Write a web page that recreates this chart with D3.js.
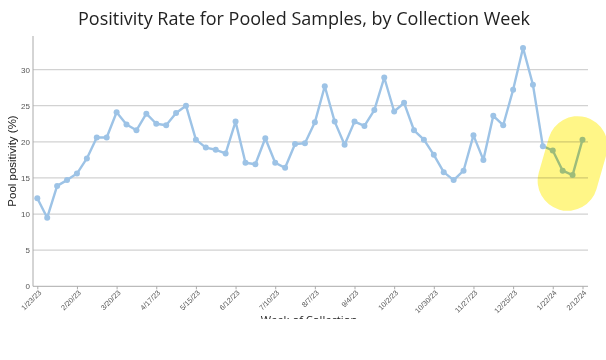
<!DOCTYPE html>
<html><head><meta charset="utf-8">
<script src="https://cdn.jsdelivr.net/npm/d3@7"></script>
<style>
html,body{margin:0;padding:0;background:#fff;}
svg{display:block;}
</style></head>
<body>
<svg id="chart" width="606" height="319"></svg>
<script>
const weeks = ["1/23/23","1/30/23","2/6/23","2/13/23","2/20/23","2/27/23","3/6/23","3/13/23","3/20/23","3/27/23","4/3/23","4/10/23","4/17/23","4/24/23","5/1/23","5/8/23","5/15/23","5/22/23","5/29/23","6/5/23","6/12/23","6/19/23","6/26/23","7/3/23","7/10/23","7/17/23","7/24/23","7/31/23","8/7/23","8/14/23","8/21/23","8/28/23","9/4/23","9/11/23","9/18/23","9/25/23","10/2/23","10/9/23","10/16/23","10/23/23","10/30/23","11/6/23","11/13/23","11/20/23","11/27/23","12/4/23","12/11/23","12/18/23","12/25/23","1/1/24","1/8/24","1/15/24","1/22/24","1/29/24","2/5/24","2/12/24"];
const positivity = [12.2,9.5,13.9,14.7,15.6,17.7,20.6,20.6,24.1,22.4,21.6,23.9,22.5,22.3,24.0,25.0,20.3,19.2,18.9,18.4,22.8,17.1,16.9,20.5,17.1,16.4,19.7,19.8,22.7,27.7,22.8,19.6,22.8,22.2,24.4,28.9,24.2,25.4,21.6,20.3,18.2,15.8,14.7,16.0,20.9,17.5,23.6,22.3,27.2,33.0,27.9,19.4,18.8,16.0,15.4,20.3];
const xTickLabels = ["1/23/23","2/20/23","3/20/23","4/17/23","5/15/23","6/12/23","7/10/23","8/7/23","9/4/23","10/2/23","10/30/23","11/27/23","12/25/23","1/22/24","2/12/24"];
const yTicks = [0,5,10,15,20,25,30];
const highlightWeeks = ["1/22/24","2/12/24"];

const svg = d3.select("#chart");
const x = d3.scalePoint().domain(weeks).range([37.3, 582.5]);
const y = d3.scaleLinear().domain([0, d3.max(positivity) * 1.05]).range([286.3, 36]);
const left = 33, right = 588;

// title
svg.append("text").attr("x", 304).attr("y", 25).attr("text-anchor", "middle")
  .attr("font-family", "'Open Sans', sans-serif").attr("font-size", 18).attr("fill", "#222")
  .text("Positivity Rate for Pooled Samples, by Collection Week");

// grid
svg.append("g").selectAll("line").data(yTicks.filter(d => d > 0)).join("line")
  .attr("x1", left).attr("x2", right).attr("y1", d => y(d)).attr("y2", d => y(d))
  .attr("stroke", "#d2d2d2").attr("stroke-width", 1.2);

// y axis
const yAxis = svg.append("g").attr("transform", `translate(${left},0)`)
  .call(d3.axisLeft(y).tickValues(yTicks).tickSize(0).tickPadding(3));
yAxis.select(".domain").attr("stroke", "#aaa").attr("d", `M0,${y.range()[1]}V${y(0)}`);
yAxis.selectAll("text").attr("font-family", "'Liberation Sans', Arial, sans-serif").attr("font-size", 8).attr("fill", "#555");

// x axis
const xAxis = svg.append("g").attr("transform", `translate(0,${y(0)})`)
  .call(d3.axisBottom(x).tickValues(xTickLabels).tickSize(3).tickSizeOuter(0));
xAxis.select(".domain").attr("stroke", "#aaa").attr("d", `M${left},0H${right}`);
xAxis.selectAll(".tick line").attr("stroke", "#aaa");
xAxis.selectAll("text").attr("font-family", "'Liberation Sans', Arial, sans-serif").attr("font-size", 7.4).attr("fill", "#555")
  .attr("text-anchor", "end").attr("dy", 0).attr("y", 0)
  .attr("transform", "translate(4,7) rotate(-45)");

// axis titles
svg.append("text").attr("transform", "translate(16,161) rotate(-90)").attr("text-anchor", "middle")
  .attr("font-family", "'Liberation Sans', Arial, sans-serif").attr("font-size", 11.5).attr("fill", "#222")
  .text("Pool positivity (%)");
svg.append("text").attr("x", 309).attr("y", 323.5).attr("text-anchor", "middle")
  .attr("font-family", "'Open Sans', sans-serif").attr("font-size", 11.2).attr("fill", "#222")
  .text("Week of Collection");

// line
const data = weeks.map((w, i) => ({w, v: positivity[i]}));
svg.append("path").datum(data).attr("fill", "none").attr("stroke", "#9dc3e6").attr("stroke-width", 2.4)
  .attr("stroke-linejoin", "round")
  .attr("d", d3.line().x(d => x(d.w)).y(d => y(d.v)));
svg.append("g").selectAll("circle").data(data).join("circle")
  .attr("cx", d => x(d.w)).attr("cy", d => y(d.v)).attr("r", 3).attr("fill", "#9dc3e6");

// highlighter blob
const hx0 = x(highlightWeeks[0]), hx1 = x(highlightWeeks[1]);
svg.append("path")
  .attr("d", `M${(hx0 + hx1) / 2 + 10},${y(19.4)} L${(hx0 + hx1) / 2},${y(14.6)}`)
  .attr("stroke", "#fff57a").attr("stroke-width", 60).attr("stroke-linecap", "round")
  .attr("fill", "none").style("mix-blend-mode", "multiply").attr("opacity", 0.9);
</script>
</body></html>
